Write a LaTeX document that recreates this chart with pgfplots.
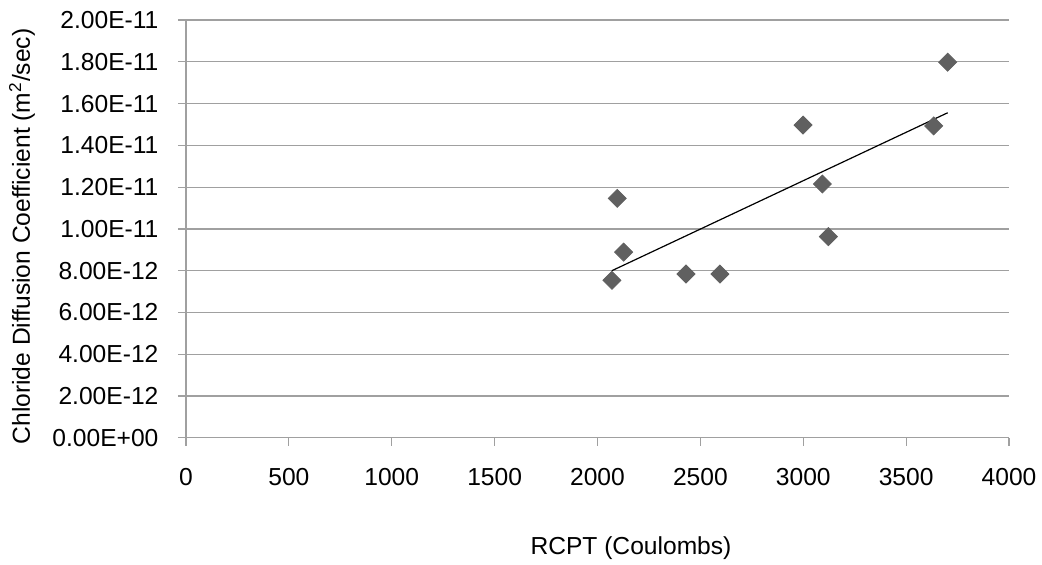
\documentclass[border=0pt]{standalone}
\usepackage{fontspec}
\setmainfont{Liberation Sans}
\usepackage{pgfplots}
\pgfplotsset{compat=1.18}
\usetikzlibrary{calc}
\definecolor{gridgray}{HTML}{A0A0A0}
\definecolor{markgray}{HTML}{606060}

\begin{document}
\fontsize{12.3}{14}\selectfont
\begin{tikzpicture}
\begin{axis}[
    scale only axis,
    width=411.5pt,
    height=208.9pt,
    xmin=0, xmax=4000,
    ymin=0, ymax=20,
    axis lines=left,
    axis line style={-, gridgray, line width=0.6pt},
    tick align=outside,
    major tick length=4pt,
    tick style={gridgray, line width=0.6pt},
    xtick={0,500,...,4000},
    xticklabels={0,500,1000,1500,2000,2500,3000,3500,4000},
    ytick={0,2,...,20},
    yticklabels={0.00E+00,2.00E-12,4.00E-12,6.00E-12,8.00E-12,1.00E-11,1.20E-11,1.40E-11,1.60E-11,1.80E-11,2.00E-11},
    ymajorgrids,
    major grid style={gridgray, line width=0.6pt},
    ticklabel style={font=\fontsize{12.3}{14}\selectfont},
    xticklabel style={yshift=-7pt},
    yticklabel style={xshift=-5.5pt},
    xlabel={RCPT (Coulombs)},
    ylabel={Chloride Diffusion Coefficient (m\textsuperscript{2}/sec)},
    every axis x label/.style={at={(axis description cs:0.5407,-0.2638)}, anchor=center},
    every axis y label/.style={at={(axis description cs:-0.1993,0.4818)}, anchor=center, rotate=90},
    label style={font=\fontsize{12.3}{14}\selectfont},
    clip=false,
]
% measured data, y in units of 1e-12 m^2/s
\addplot[only marks, mark=diamond*, mark size=4.5pt,
    mark options={xscale=1.3333, fill=markgray, draw=markgray}]
    coordinates {
    (2070,7.54) (2096,11.46) (2127,8.89) (2430,7.84) (2595,7.84)
    (2999,14.97) (3093,12.15) (3122,9.63) (3634,14.93) (3702,17.98)
    };
% linear trendline
\addplot[black, line width=0.6pt] coordinates {(2070,8.00) (3702,15.56)};
\coordinate (o) at (rel axis cs:0,0);
\end{axis}
\pgfresetboundingbox
\path[use as bounding box] ($(o)+(-93pt,-63.1pt)$) rectangle ($(o)+(428pt,218.9pt)$);
\end{tikzpicture}
\end{document}
